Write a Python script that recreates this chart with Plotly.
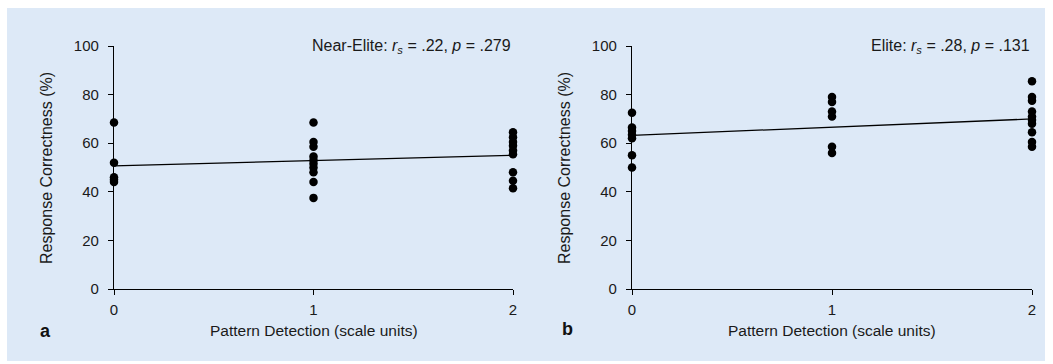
import plotly.graph_objects as go

# ---- data ----
x_levels = [0, 1, 2]
near_x0 = [68.5, 52, 46, 45, 44]
near_x1 = [68.5, 60.5, 58.5, 54.5, 53, 51.5, 50, 48, 44, 37.5]
near_x2 = [64.5, 62.5, 60.5, 59, 57, 55.5, 48, 44.5, 41.5]
elite_x0 = [72.5, 66.5, 65, 63.5, 62, 55, 50]
elite_x1 = [79, 77, 73, 71, 58.5, 56]
elite_x2 = [85.5, 79, 77.5, 73, 71, 69.5, 68, 64.5, 60.5, 58.5]
near_fit = [50.7, 55.0]   # fit line at x=0 and x=2
elite_fit = [63.2, 70.0]
fit_x = [0, 2]
y_ticks = [0, 20, 40, 60, 80, 100]
near_label = "Near-Elite: <i>r<sub>s</sub></i> = .22, <i>p</i> = .279"
elite_label = "Elite: <i>r<sub>s</sub></i> = .28, <i>p</i> = .131"
x_title = "Pattern Detection (scale units)"
y_title = "Response Correctness (%)"

W, H = 1053, 364
BG = "#dde9f7"
FONT = "Liberation Sans, Arial, sans-serif"
TXT = "#1a1a1a"

def px_x(v):
    return v / W

def px_y(v):
    return 1 - v / H

def flatten(groups):
    xs, ys = [], []
    for xv, g in zip(x_levels, groups):
        xs += [xv] * len(g)
        ys += g
    return xs, ys

fig = go.Figure()
panels = [
    ("x", "y", [near_x0, near_x1, near_x2], near_fit),
    ("x2", "y2", [elite_x0, elite_x1, elite_x2], elite_fit),
]
for xa, ya, groups, fit in panels:
    xs, ys = flatten(groups)
    fig.add_trace(go.Scatter(x=fit_x, y=fit, mode="lines", xaxis=xa, yaxis=ya,
                             line=dict(color="black", width=1.3), showlegend=False,
                             cliponaxis=False))
    fig.add_trace(go.Scatter(x=xs, y=ys, mode="markers", xaxis=xa, yaxis=ya,
                             marker=dict(color="black", size=8.5), showlegend=False,
                             cliponaxis=False))

ax_common = dict(showgrid=False, zeroline=False, showline=True, linecolor="black",
                 linewidth=1.3, ticks="outside", ticklen=5, tickwidth=1.3,
                 tickcolor="black", automargin=False,
                 tickfont=dict(family=FONT, size=15, color=TXT))
ydom = [px_y(289), px_y(46)]
fig.update_layout(
    width=W, height=H,
    paper_bgcolor="white", plot_bgcolor=BG,
    margin=dict(l=0, r=0, t=0, b=0),
    font=dict(family=FONT, size=15, color=TXT),
    xaxis=dict(domain=[px_x(114), px_x(513)], range=[0, 2], tickvals=x_levels,
               anchor="y", ticklabelstandoff=2, **ax_common),
    yaxis=dict(domain=ydom, range=[0, 100], tickvals=y_ticks, anchor="x",
               ticklabelstandoff=6, **ax_common),
    xaxis2=dict(domain=[px_x(632), px_x(1032)], range=[0, 2], tickvals=x_levels,
                anchor="y2", ticklabelstandoff=2, **ax_common),
    yaxis2=dict(domain=ydom, range=[0, 100], tickvals=y_ticks, anchor="x2",
                ticklabelstandoff=6, **ax_common),
    shapes=[dict(type="rect", xref="paper", yref="paper", layer="below",
                 x0=px_x(7), x1=px_x(1045), y0=px_y(361), y1=px_y(8),
                 fillcolor=BG, line=dict(width=0))],
)

ann = []
for lab, xl, xr, ycx, letter, lx, ly in [
    (near_label, 114, 513, 46, "a", 45, 331),
    (elite_label, 632, 1032, 564, "b", 567, 329),
]:
    ann.append(dict(text=lab, xref="paper", yref="paper", x=px_x(xr), y=px_y(46),
                    xanchor="right", yanchor="middle", showarrow=False,
                    font=dict(size=16, family=FONT, color=TXT)))
    ann.append(dict(text=x_title, xref="paper", yref="paper", x=px_x((xl + xr) / 2),
                    y=px_y(330), xanchor="center", yanchor="middle", showarrow=False,
                    font=dict(size=15.5, family=FONT, color=TXT)))
    ann.append(dict(text=y_title, xref="paper", yref="paper", x=px_x(ycx),
                    y=px_y(168), xanchor="center", yanchor="middle", textangle=-90,
                    showarrow=False, font=dict(size=16, family=FONT, color=TXT)))
    ann.append(dict(text="<b>" + letter + "</b>", xref="paper", yref="paper", x=px_x(lx),
                    y=px_y(ly), xanchor="center", yanchor="middle", showarrow=False,
                    font=dict(size=18, family=FONT, color="#111")))
fig.update_layout(annotations=ann)

fig.write_html("out.html", config={"displayModeBar": False},
               post_script="document.body.style.margin='0';document.body.style.overflow='hidden';")
